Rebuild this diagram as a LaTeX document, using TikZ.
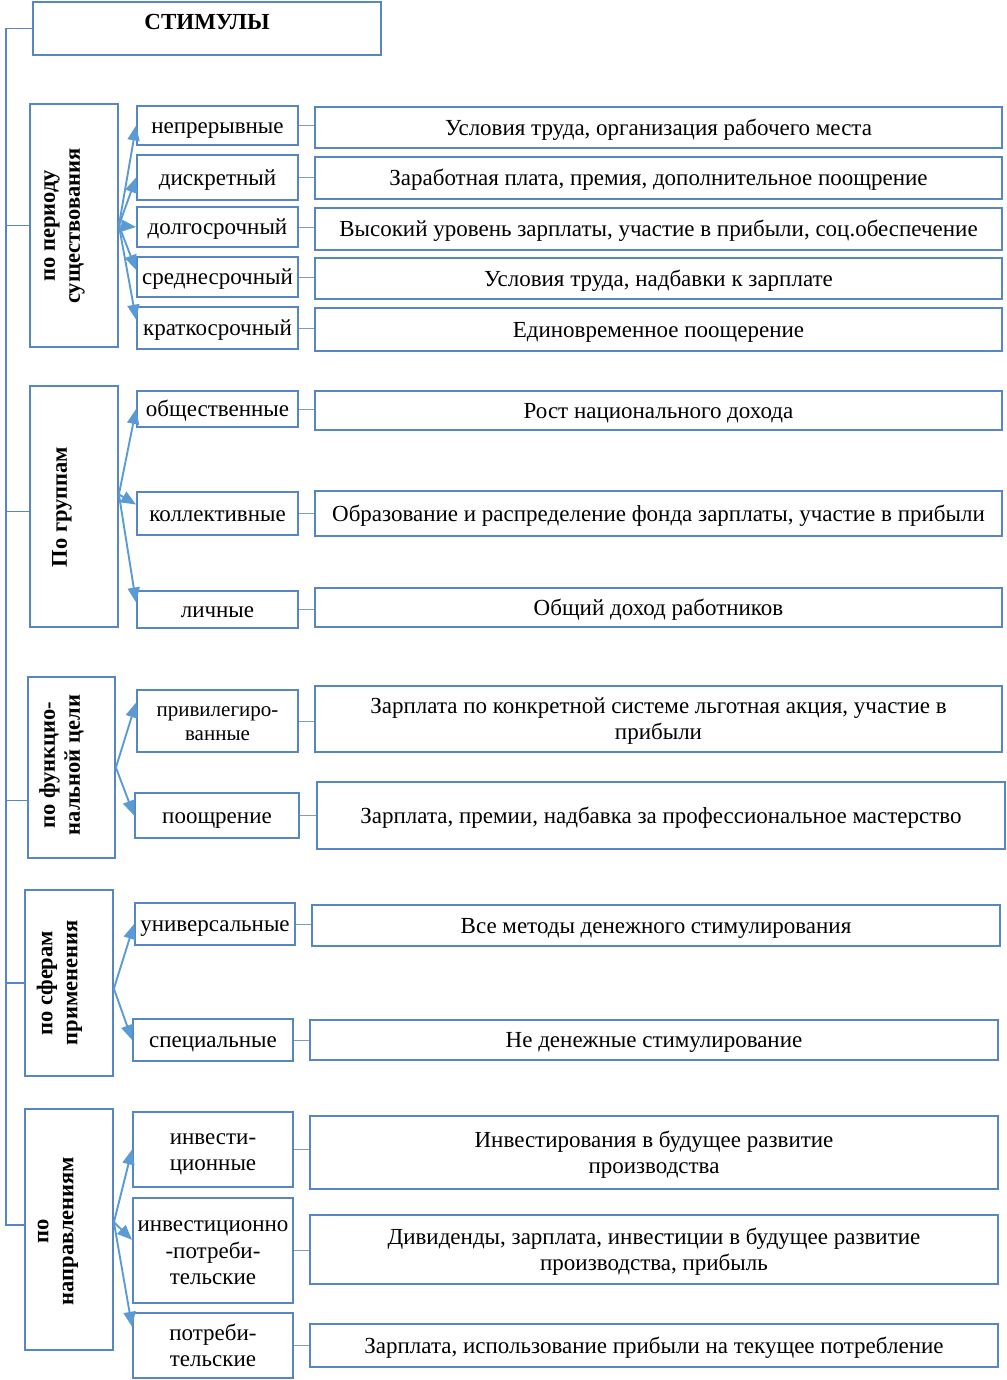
\documentclass[tikz,border=0pt]{standalone}
\usepackage{fontspec}
\setmainfont{Liberation Serif}
\usetikzlibrary{arrows.meta,calc}
\definecolor{boxc}{RGB}{86,135,196}
\definecolor{arrc}{RGB}{91,155,213}
\definecolor{linc}{RGB}{125,155,195}
\newcommand\tx[1]{\raisebox{-2.5pt}[\height][\depth]{\begin{tabular}{@{}c@{}}#1\end{tabular}}}
\begin{document}
\begin{tikzpicture}[x=1pt,y=-1pt,
  bx/.style={draw=boxc, line width=1.8pt, fill=white, inner sep=1pt,
    font=\fontsize{23}{26}\selectfont},
  cat/.style={bx, minimum width=88},
  cattext/.style={rotate=90, align=center, inner sep=0pt, font=\bfseries\fontsize{22.5}{25}\selectfont},
  tp/.style={bx, minimum width=161},
  rb/.style={bx, minimum width=687},
  arr/.style={draw=arrc, line width=1.9pt, -{Triangle[length=15pt,width=12pt]}},
  conn/.style={draw=linc, line width=0.9pt},
  trunk/.style={draw=boxc, line width=1.7pt}]
\useasboundingbox (0,0) rectangle (1006,1380);

% title
\node[bx, minimum width=348, minimum height=53] (title) at (207,28.5) {\raisebox{6.5pt}[\height][\depth]{\bfseries СТИМУЛЫ}};

% category boxes
\node[cat, minimum height=243] (c1) at (74,225.5) {};
\node[cattext] (c1t) at (64.5,226) {по периоду\\существования};
\node[cat, minimum height=241] (c2) at (74,506.5) {};
\node[cattext] (c2t) at (62,507) {По группам};
\node[cat, minimum width=87, minimum height=181] (c3) at (71.5,767.5) {};
\node[cattext] (c3t) at (61.5,765) {по функцио-\\нальной цели};
\node[cat, minimum height=186] (c4) at (69,983) {};
\node[cattext] (c4t) at (59.5,983) {по сферам\\применения};
\node[cat, minimum height=241] (c5) at (69,1229.5) {};
\node[cattext] (c5t) at (58,1231) {по\\направлениям};

% type boxes
\node[tp, minimum height=39] (t11) at (217.5,125.5) {\tx{непрерывные}};
\node[tp, minimum height=45] (t12) at (217.5,177.5) {\tx{дискретный}};
\node[tp, minimum height=40] (t13) at (217.5,227) {\tx{долгосрочный}};
\node[tp, minimum height=40] (t14) at (217.5,277) {\tx{среднесрочный}};
\node[tp, minimum height=42] (t15) at (217.5,328) {\tx{краткосрочный}};
\node[tp, minimum height=36] (t21) at (217.5,409) {\tx{общественные}};
\node[tp, minimum height=43] (t22) at (217.5,513.5) {\tx{коллективные}};
\node[tp, minimum height=37] (t23) at (217.5,609.5) {\tx{личные}};
\node[tp, minimum height=62, font=\fontsize{21}{24}\selectfont] (t31) at (217.5,721) {\tx{привилегиро-\\ванные}};
\node[tp, minimum width=164, minimum height=45] (t32) at (217,815.5) {\tx{поощрение}};
\node[tp, minimum width=160, minimum height=42] (t41) at (215,924) {\tx{универсальные}};
\node[tp, minimum width=160, minimum height=42] (t42) at (213,1040) {\tx{специальные}};
\node[tp, minimum width=160, minimum height=75] (t51) at (213,1149.5) {\tx{инвести-\\ционные}};
\node[tp, minimum width=160, minimum height=105, font=\fontsize{23}{26.5}\selectfont] (t52) at (213,1250.5) {\tx{инвестиционно\\-потреби-\\тельские}};
\node[tp, minimum width=160, minimum height=65] (t53) at (213,1345.5) {\tx{потреби-\\тельские}};

% right boxes
\node[rb, minimum height=41] (r11) at (658.5,127.5) {\tx{Условия труда, организация рабочего места}};
\node[rb, minimum height=42] (r12) at (658.5,178) {\tx{Заработная плата, премия, дополнительное поощрение}};
\node[rb, minimum height=42] (r13) at (658.5,229) {\tx{Высокий уровень зарплаты, участие в прибыли, соц.обеспечение}};
\node[rb, minimum height=41] (r14) at (658.5,278.5) {\tx{Условия труда, надбавки к зарплате}};
\node[rb, minimum height=43] (r15) at (658.5,329.5) {\tx{Единовременное поощерение}};
\node[rb, minimum height=39] (r21) at (658.5,410.5) {\tx{Рост национального дохода}};
\node[rb, minimum height=45] (r22) at (658.5,513.5) {\tx{Образование и распределение фонда зарплаты, участие в прибыли}};
\node[rb, minimum height=39] (r23) at (658.5,607.5) {\tx{Общий доход работников}};
\node[rb, minimum height=66] (r31) at (658.5,719) {\tx{Зарплата по конкретной системе льготная акция, участие в\\прибыли}};
\node[rb, minimum width=688, minimum height=67] (r32) at (661,815.5) {\tx{Зарплата, премии, надбавка за профессиональное мастерство}};
\node[rb, minimum width=688, minimum height=41] (r41) at (656,925.5) {\tx{Все методы денежного стимулирования}};
\node[rb, minimum width=688, minimum height=40] (r42) at (654,1040) {\tx{Не денежные стимулирование}};
\node[rb, minimum width=688, minimum height=73] (r51) at (654,1152.5) {\tx{Инвестирования в будущее развитие\\производства}};
\node[rb, minimum width=688, minimum height=69] (r52) at (654,1249.5) {\tx{Дивиденды, зарплата, инвестиции в будущее развитие\\производства, прибыль}};
\node[rb, minimum width=688, minimum height=43] (r53) at (654,1345.5) {\tx{Зарплата, использование прибыли на текущее потребление}};

% trunk
\coordinate (tb) at (6,1225);
\draw[trunk] (title.west) -- (title.west -| tb) -- (tb) -- (tb -| c5.west);
\draw[trunk] (c1.west) -- (c1.west -| tb);
\draw[trunk] ($(c2.north west)!0.52!(c2.south west)$) -- ++(-24,0);
\draw[trunk] ($(c3.north west)!0.68!(c3.south west)$) -- ++(-22,0);
\draw[trunk] (c4.west) -- (c4.west -| tb);

% arrows group 1
\draw[arr] (c1.east) -- (t11.west);
\draw[arr] (c1.east) -- (t12.west);
\draw[arr] (c1.east) -- (t13.west);
\draw[arr] (c1.east) -- ($(t14.north west)!0.33!(t14.south west)$);
\draw[arr] (c1.east) -- ($(t15.north west)!0.31!(t15.south west)$);
% group 2
\coordinate (o2) at ($(c2.north east)!0.45!(c2.south east)$);
\draw[arr] (o2) -- (t21.west);
\draw[arr] (o2) -- ($(t22.north west)!0.3!(t22.south west)$);
\draw[arr] (o2) -- ($(t23.north west)!0.32!(t23.south west)$);
% group 3
\draw[arr] (c3.east) -- ($(t31.north west)!0.21!(t31.south west)$);
\draw[arr] (c3.east) -- (t32.west);
% group 4
\coordinate (o4) at ($(c4.north east)!0.53!(c4.south east)$);
\draw[arr] (o4) -- (t41.west);
\draw[arr] (o4) -- (t42.west);
% group 5
\coordinate (o5) at ($(c5.north east)!0.47!(c5.south east)$);
\draw[arr] (o5) -- (t51.west);
\draw[arr] (o5) -- ($(t52.north west)!0.4!(t52.south west)$);
\draw[arr] (o5) -- ($(t53.north west)!0.22!(t53.south west)$);

% type -> right connectors
\foreach \a/\b in {t11/r11,t12/r12,t13/r13,t14/r14,t15/r15,t21/r21,t22/r22,t23/r23,t31/r31,t32/r32,t41/r41,t42/r42,t51/r51,t52/r52,t53/r53}
  \draw[conn] (\a.east) -- (\a.east -| \b.west);
\end{tikzpicture}
\end{document}
